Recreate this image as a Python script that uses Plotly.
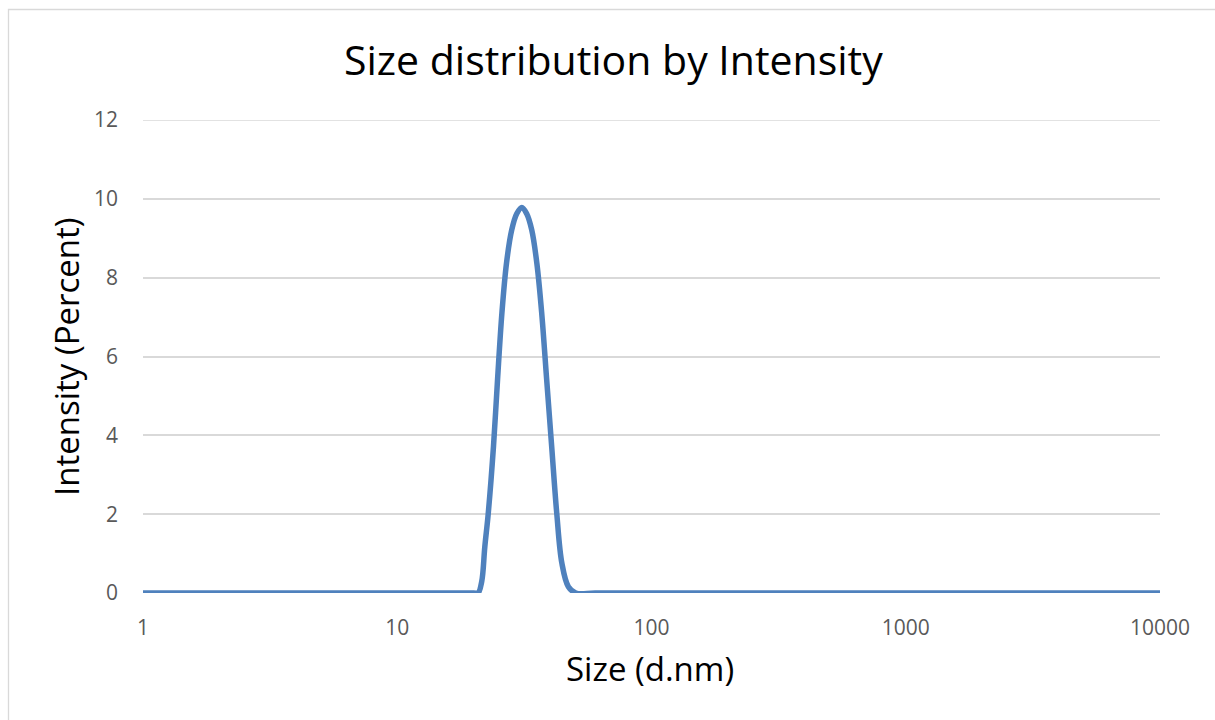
import plotly.graph_objects as go

# Size (d.nm) and intensity (%)
size_nm = [1, 2, 5, 10, 15, 20, 20.8, 21.5, 22.1, 22.8, 23.9, 24.8, 25.8, 26.9, 28.2,
           29.5, 30.9, 32.3, 33.8, 35.4, 37.0, 38.7, 40.5, 42.4, 44.4, 47.1, 50.4, 60, 100,
           300, 1000, 3000, 10000]
intensity_pct = [0, 0, 0, 0, 0, 0, 0, 0.3, 1.17, 2.02, 3.71, 5.41, 7.1, 8.37, 9.21,
                 9.62, 9.78, 9.62, 9.21, 8.37, 7.1, 5.41, 3.71, 2.02, 0.76, 0.16, 0, 0, 0,
                 0, 0, 0, 0]

x_ticks = [1, 10, 100, 1000, 10000]
x_tick_labels = ["1", "10", "100", "1000", "10000"]
y_ticks = [0, 2, 4, 6, 8, 10, 12]

title_text = "Size distribution by Intensity"
x_title = "Size (d.nm)"
y_title = "Intensity (Percent)"

FONT = "Open Sans"
GRID = "#D9D9D9"
W, H = 1215, 720
L, R, T, B = 143, 55, 120, 127
pw, ph = W - L - R, H - T - B

fig = go.Figure()
fig.add_trace(go.Scatter(
    x=size_nm, y=intensity_pct, mode="lines",
    line=dict(color="#4F81BD", width=5.5, shape="spline", smoothing=1.0),
    hoverinfo="x+y", showlegend=False,
))

fig.update_layout(
    width=W, height=H,
    margin=dict(l=L, r=R, t=T, b=B),
    paper_bgcolor="white", plot_bgcolor="white",
    font=dict(family=FONT, color="#595959"),
    xaxis=dict(
        type="log", range=[0, 4], tickvals=x_ticks, ticktext=x_tick_labels,
        showgrid=False, zeroline=False, showline=False, ticks="",
        tickfont=dict(size=21, color="#595959", family=FONT),
        ticklabelstandoff=20,
    ),
    yaxis=dict(
        range=[0, 12], tickvals=y_ticks, showgrid=True, gridcolor=GRID,
        gridwidth=1.5, zeroline=False, showline=False, ticks="",
        tickfont=dict(size=21, color="#595959", family=FONT),
        ticklabelstandoff=24,
    ),
    annotations=[
        dict(text=title_text, xref="paper", yref="paper",
             x=(613 - L) / pw, y=1 + (T - 59) / ph, xanchor="center", yanchor="middle",
             showarrow=False, font=dict(size=41, color="black", family=FONT)),
        dict(text=x_title, xref="paper", yref="paper",
             x=(650 - L) / pw, y=-(668 - (T + ph)) / ph, xanchor="center", yanchor="middle",
             showarrow=False, font=dict(size=33, color="black", family=FONT)),
        dict(text=y_title, xref="paper", yref="paper", textangle=-90,
             x=(66 - L) / pw, y=1 - (357 - T) / ph, xanchor="center", yanchor="middle",
             showarrow=False, font=dict(size=33, color="black", family=FONT)),
    ],
    shapes=[
        dict(type="rect", xref="paper", yref="paper",
             x0=(8.5 - L) / pw, x1=(W + 5 - L) / pw,
             y0=1 + (T - 9.5) / ph, y1=-(H + 5 - T - ph) / ph,
             line=dict(color=GRID, width=1.3), fillcolor="rgba(0,0,0,0)", layer="below"),
        # top gridline (at the edge of the y range)
        dict(type="line", xref="paper", yref="y", x0=0, x1=1,
             y0=y_ticks[-1], y1=y_ticks[-1],
             line=dict(color=GRID, width=1.5), layer="below"),
    ],
)

fig.write_html("out.html")
